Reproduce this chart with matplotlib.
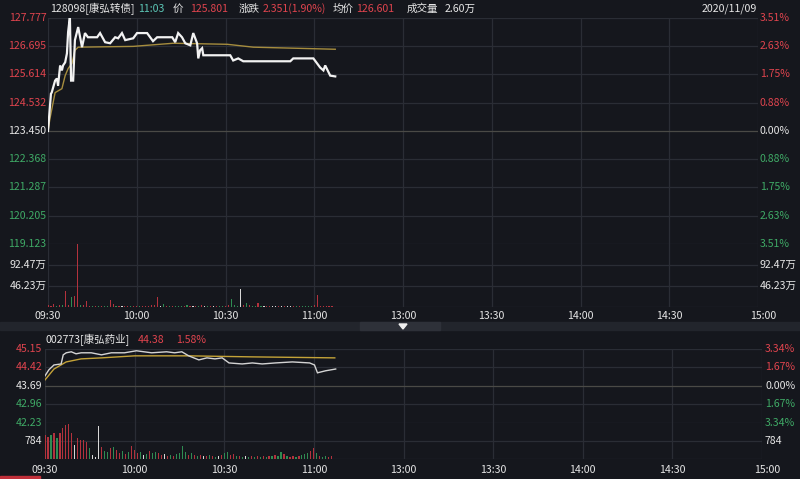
import matplotlib
matplotlib.use("Agg")
import matplotlib.pyplot as plt
from matplotlib.patches import Rectangle, Polygon

plt.rcParams['font.family'] = ['Noto Sans CJK SC', 'DejaVu Sans']

# ---------------- data ----------------
time_ticks = [0, 30, 60, 90, 120, 150, 180, 210, 240]
time_labels = ['09:30', '10:00', '10:30', '11:00', '13:00', '13:30', '14:00', '14:30', '15:00']

# convertible bond 128098
cb_levels = [127.777, 126.695, 125.614, 124.532, 123.450, 122.368, 121.287, 120.205, 119.123]
cb_left_labels = ['127.777', '126.695', '125.614', '124.532', '123.450', '122.368', '121.287', '120.205', '119.123']
cb_right_labels = ['3.51%', '2.63%', '1.75%', '0.88%', '0.00%', '0.88%', '1.75%', '2.63%', '3.51%']
cb_label_kind = ['r', 'r', 'r', 'r', 'w', 'g', 'g', 'g', 'g']
cb_vol_levels = [92.47, 46.23]
cb_vol_labels = ['92.47万', '46.23万']
cb_vol_max = 138.7

cb_price_min = [0, 1, 1.25, 2.4, 3.0, 3.4, 4.1, 4.7, 5.1, 5.8, 6.4, 6.8, 7.4, 7.8, 8.5, 9.1, 10.2,
                11.5, 12.5, 13.5, 16.6, 17.6, 19.3, 21.0, 22.7, 23.7, 25.0, 26.1, 28.8, 30.1, 33.5,
                35.5, 36.9, 42.0, 43.0, 44.0, 45.3, 46.4, 48.1, 49.1, 50.4, 50.8, 51.4, 52.1, 52.5,
                61.6, 62.6, 64.3, 66.0, 81.9, 82.9, 89.7, 92.0, 93.1, 93.7, 95.4, 97.1]
cb_price = [123.45, 124.88, 124.92, 125.38, 125.46, 125.19, 125.96, 125.77, 125.96, 126.08, 126.42,
            127.24, 127.82, 125.38, 125.38, 126.93, 127.43, 126.66, 127.20, 127.04, 127.04, 127.20,
            126.85, 126.81, 127.04, 127.00, 127.20, 126.93, 127.00, 127.20, 127.20, 126.89, 127.04,
            127.04, 126.85, 127.20, 127.04, 126.81, 126.73, 127.20, 126.81, 126.23, 126.54, 126.62,
            126.35, 126.35, 126.15, 126.23, 126.12, 126.12, 126.23, 126.23, 125.88, 125.77, 125.96,
            125.57, 125.54]
cb_avg_min = [0, 0.7, 2.4, 4.7, 5.8, 6.8, 8.1, 9.1, 10.2, 28.8, 42.3, 60.6, 69.4, 97.1]
cb_avg = [123.45, 123.95, 124.92, 125.07, 125.57, 125.84, 126.04, 126.54, 126.66, 126.69, 126.81,
          126.77, 126.66, 126.58]

cb_vol = [4, 2, 6, 3, 4, 5, 35, 5, 22, 24, 138, 4, 5, 13, 3, 2, 2, 2, 3, 2,
          3, 15, 6, 3, 2, 2, 2, 3, 2, 2, 2, 3, 2, 2, 3, 4, 5, 22, 3, 6,
          2, 2, 2, 2, 2, 3, 2, 4, 2, 2, 3, 2, 4, 2, 2, 2, 2, 2, 3, 2,
          3, 4, 17, 4, 3, 40, 4, 9, 4, 3, 2, 9, 2, 2, 2, 2, 3, 2, 2, 2,
          2, 2, 3, 2, 3, 2, 2, 2, 2, 3, 4, 26, 3, 2, 2, 3, 2]
cb_vol_dir = ("rrrgrgrrgrrgrrrgrgrgg" "rrgrwrrgrrgrrrrrrw" "grgrgggrgrwrgrwgrwr"
              "ggrrgggwrgrggrgwrrwwrwrwwrgrggggrrrr")

# stock 002773
st_levels = [45.15, 44.42, 43.69, 42.96, 42.23]
st_left_labels = ['45.15', '44.42', '43.69', '42.96', '42.23']
st_right_labels = ['3.34%', '1.67%', '0.00%', '1.67%', '3.34%']
st_label_kind = ['r', 'r', 'w', 'g', 'g']
st_vol_levels = [784]
st_vol_labels = ['784']
st_vol_max = 1568

st_price_min = [0, 1.3, 3.0, 5.4, 6.1, 7.1, 8.8, 10.4, 12.1, 15.5, 18.9, 22.2, 26.6, 30.6, 35.7,
                40.7, 43.4, 45.8, 48.1, 51.5, 54.2, 56.9, 59.3, 61.6, 66.0, 69.4, 72.7, 77.1,
                82.8, 88.6, 90.2, 91.2, 93.9, 97.3]
st_price = [44.09, 44.33, 44.52, 44.56, 44.92, 45.00, 45.04, 44.96, 45.00, 45.00, 44.92, 45.00,
            45.00, 45.08, 45.00, 45.04, 45.00, 45.04, 44.88, 44.72, 44.80, 44.76, 44.80, 44.60,
            44.56, 44.60, 44.56, 44.60, 44.64, 44.60, 44.52, 44.21, 44.29, 44.36]
st_avg_min = [0, 3, 7.1, 12.1, 18.9, 30, 48, 69, 97]
st_avg = [43.93, 44.36, 44.64, 44.76, 44.80, 44.88, 44.88, 44.84, 44.80]

st_vol = [1050, 960, 1050, 1130, 920, 1130, 1350, 1480, 1530, 1130, 610, 920, 830, 830, 740, 480,
          170, 90, 1440, 520, 350, 300, 480, 520, 390, 260, 350, 220, 300, 570, 390, 260, 300, 170,
          220, 350, 260, 300, 260, 170, 220, 130, 170, 130, 220, 260, 570, 300, 170, 260, 170, 130,
          170, 130, 130, 170, 130, 90, 130, 170, 260, 300, 170, 220, 130, 130, 90, 130, 90, 130,
          90, 130, 90, 130, 90, 130, 130, 170, 130, 300, 220, 130, 90, 130, 90, 130, 170, 220,
          260, 350, 480, 260, 130, 90, 130, 90, 130]
st_vol_dir = ("rrgrgrrrrrwrrrrgwwwrggrgrrgrgrrrgwgrggrrwrgrgggg" "rgrgrwrgrgwrggrrgrgwgrgrgrgrgrggrgrrgrgggrrgrgg")

# ---------------- style ----------------
W, H = 800, 479
BG = '#15171d'
GRID = '#2a2d35'
ZERO = '#4a4a46'
RED = '#e0444e'
GREEN = '#3faa66'
WHITE = '#e6e6e6'
TEAL = '#5cc6b6'
BAR = {'r': '#b3323d', 'g': '#2f8c52', 'w': '#d8d8d8'}
TXT = {'r': RED, 'g': GREEN, 'w': WHITE}
FS = 7.6

fig = plt.figure(figsize=(W / 100, H / 100), dpi=100, facecolor=BG)


def add_ax(l, r, t, b):
    ax = fig.add_axes([l / W, 1 - b / H, (r - l) / W, (b - t) / H])
    ax.set_facecolor(BG)
    ax.set_xlim(0, 240)
    for s in ax.spines.values():
        s.set_visible(False)
    ax.set_xticks([])
    ax.set_yticks([])
    for t_ in time_ticks:
        ax.axvline(t_, color=GRID, lw=0.9, zorder=0)
    return ax


def ftext(x, y, s, color=WHITE, ha='left', size=FS, **kw):
    fig.text(x / W, 1 - y / H, s, color=color, ha=ha, va='center', fontsize=size, **kw)


def draw_panel(l, r, t, mid, b, levels, llab, rlab, kinds, vlevels, vlabels, vmax,
               pmin, price, amin, avg, vol, vdir, prev, lw_price, price_col, avg_col,
               lx, rx, tick_y):
    axp = add_ax(l, r, t, mid)
    axv = add_ax(l, r, mid, b)
    axp.set_ylim(levels[-1], levels[0])
    axv.set_ylim(0, vmax)
    for lv in levels:
        axp.axhline(lv, color=ZERO if lv == prev else GRID, lw=0.9, zorder=0)
    for lv in vlevels + [0]:
        axv.axhline(lv, color=GRID, lw=0.9, zorder=0)
    axp.plot(pmin, price, color=price_col, lw=lw_price, zorder=3, solid_joinstyle='miter')
    axp.plot(amin, avg, color=avg_col, lw=1.0, zorder=2)
    mins = list(range(len(vol)))
    axv.bar(mins, vol, width=0.38, color=[BAR[c] for c in vdir[:len(vol)]], zorder=2)
    # labels
    ph = (mid - t) / (levels[0] - levels[-1])
    for lv, a, bb, k in zip(levels, llab, rlab, kinds):
        y = t + (levels[0] - lv) * ph
        ftext(lx, y, a, TXT[k], ha='right')
        ftext(rx, y, bb, TXT[k])
    vh = (b - mid) / vmax
    for lv, a in zip(vlevels, vlabels):
        y = b - lv * vh
        ftext(lx, y, a, WHITE, ha='right')
        ftext(rx, y, a, WHITE)
    step = (r - l) / 240
    for tm, lab in zip(time_ticks, time_labels):
        x = l + tm * step
        if tm == 240:
            x += 5
        ftext(x, tick_y, lab, WHITE, ha='center')
    return axp, axv


draw_panel(48, 758, 18, 244, 307, cb_levels, cb_left_labels, cb_right_labels, cb_label_kind,
           cb_vol_levels, cb_vol_labels, cb_vol_max, cb_price_min, cb_price, cb_avg_min, cb_avg,
           cb_vol, cb_vol_dir, 123.450, 1.6, '#f2f2f2', '#a68d3e', 46.5, 760, 316)

draw_panel(45, 762, 349, 423, 459, st_levels, st_left_labels, st_right_labels, st_label_kind,
           st_vol_levels, st_vol_labels, st_vol_max, st_price_min, st_price, st_avg_min, st_avg,
           st_vol, st_vol_dir, 43.69, 1.0, '#d4d4d4', '#c4a338', 42.5, 765, 470)

# header top
hy = 9
ftext(50, hy, '128098[康弘转债]', WHITE)
ftext(138, hy, '11:03', TEAL)
ftext(173, hy, '价', WHITE)
ftext(190, hy, '125.801', RED)
ftext(239, hy, '涨跌', WHITE)
ftext(263, hy, '2.351(1.90%)', RED)
ftext(333, hy, '均价', WHITE)
ftext(356, hy, '126.601', RED)
ftext(407, hy, '成交量', WHITE)
ftext(445, hy, '2.60万', WHITE)
ftext(757, hy, '2020/11/09', WHITE, ha='right')

# header bottom
by = 340
ftext(45, by, '002773[康弘药业]', WHITE)
ftext(138, by, '44.38', RED)
ftext(176, by, '1.58%', RED)

# separator bar with triangle
sep = fig.add_axes([0, 0, 1, 1], facecolor='none')
sep.set_xlim(0, W)
sep.set_ylim(H, 0)
sep.axis('off')
sep.add_patch(Rectangle((0, 322), W, 8, color='#22252c', zorder=1))
sep.add_patch(Rectangle((360, 322), 80, 8, color='#2e3139', zorder=2))
sep.add_patch(Polygon([[399, 324], [407, 324], [403, 329]], closed=True, color='#f0f0f0', zorder=3))
sep.add_patch(Rectangle((0, 476), 40, 3, color='#c0303a', zorder=3))

fig.savefig('out.png', dpi=100, facecolor=BG)
